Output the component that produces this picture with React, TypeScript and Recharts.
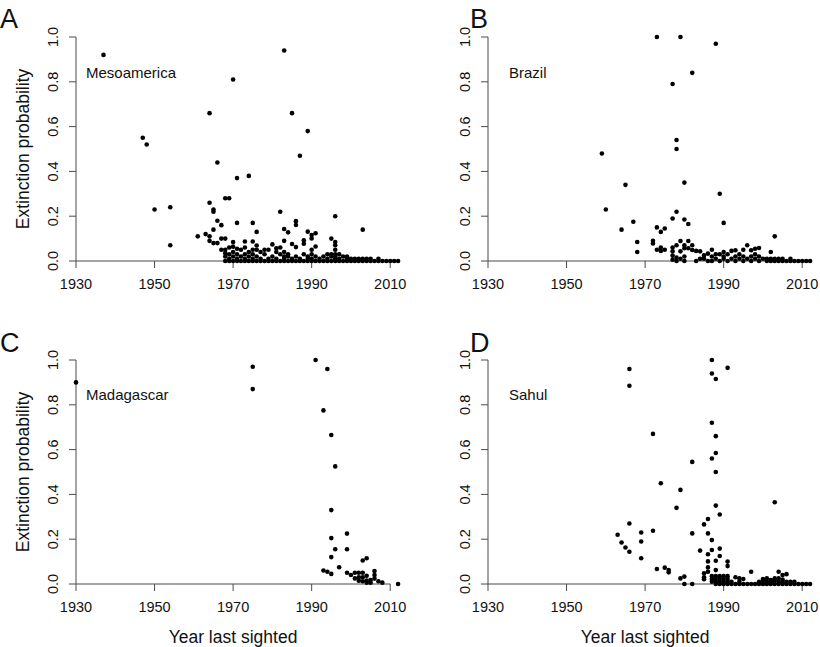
import { ScatterChart, Scatter, XAxis, YAxis, ReferenceLine } from "recharts";

const yearTicks = [1930, 1950, 1970, 1990, 2010];
const probTicks = [0, 0.2, 0.4, 0.6, 0.8, 1];

// [year last sighted, extinction probability]
const mesoamerica: [number, number][] = [
  [1937, 0.92], [1983, 0.94], [1970, 0.81], [1964, 0.66], [1985, 0.66], [1989, 0.58],
  [1947, 0.55], [1948, 0.52], [1987, 0.47], [1966, 0.44], [1971, 0.37], [1974, 0.38],
  [1950, 0.23], [1954, 0.24], [1954, 0.07], [1968, 0.28], [1969, 0.28], [1964, 0.26],
  [1965, 0.23], [1965, 0.22], [1966, 0.18], [1967, 0.16], [1971, 0.17], [1975, 0.17],
  [1982, 0.22], [1996, 0.2], [2003, 0.14], [1976, 0.13], [1965, 0.14], [1961, 0.11],
  [1963, 0.12], [1964, 0.11], [1964, 0.09], [1965, 0.08], [1966, 0.08], [1967, 0.1],
  [1968, 0.1], [1967, 0.05], [1968, 0.05], [1969, 0.06], [1970, 0.085], [1970, 0.064],
  [1970, 0.04], [1971, 0.055], [1972, 0.05], [1973, 0.087], [1973, 0.06], [1975, 0.087],
  [1975, 0.05], [1976, 0.069], [1976, 0.05], [1978, 0.05], [1979, 0.05], [1980, 0.074],
  [1981, 0.057], [1982, 0.06], [1983, 0.143], [1984, 0.128], [1983, 0.09], [1985, 0.076],
  [1986, 0.178], [1986, 0.161], [1986, 0.062], [1988, 0.092], [1988, 0.077], [1989, 0.131],
  [1990, 0.116], [1991, 0.124], [1990, 0.101], [1990, 0.05], [1991, 0.065], [1995, 0.1],
  [1996, 0.085], [1996, 0.07], [1996, 0.05],
  [1968, 0.0], [1968, 0.02], [1968, 0.035], [1969, 0.0], [1969, 0.01], [1969, 0.03],
  [1970, 0.0], [1970, 0.02], [1971, 0.0], [1971, 0.01], [1971, 0.03], [1972, 0.0],
  [1972, 0.02], [1973, 0.0], [1973, 0.01], [1973, 0.03], [1974, 0.0], [1974, 0.02],
  [1974, 0.04], [1975, 0.0], [1975, 0.01], [1975, 0.03], [1976, 0.0], [1976, 0.02],
  [1977, 0.0], [1977, 0.01], [1977, 0.04], [1978, 0.0], [1978, 0.03], [1979, 0.0],
  [1979, 0.01], [1980, 0.0], [1980, 0.02], [1981, 0.0], [1981, 0.01], [1981, 0.04],
  [1982, 0.0], [1982, 0.03], [1983, 0.0], [1983, 0.01], [1983, 0.02], [1983, 0.04],
  [1984, 0.0], [1984, 0.02], [1984, 0.03], [1985, 0.0], [1985, 0.01], [1986, 0.0],
  [1986, 0.02], [1987, 0.0], [1987, 0.01], [1988, 0.0], [1988, 0.03], [1989, 0.0],
  [1989, 0.01], [1989, 0.02], [1990, 0.0], [1990, 0.01], [1990, 0.03], [1991, 0.0],
  [1991, 0.02], [1992, 0.0], [1992, 0.01], [1993, 0.0], [1993, 0.02], [1994, 0.0],
  [1994, 0.01], [1994, 0.03], [1995, 0.0], [1995, 0.02], [1995, 0.03], [1996, 0.0],
  [1996, 0.01], [1996, 0.02], [1996, 0.03], [1997, 0.0], [1997, 0.01], [1997, 0.03],
  [1998, 0.0], [1998, 0.02], [1999, 0.0], [1999, 0.01], [1999, 0.02], [2000, 0.0],
  [2000, 0.01], [2001, 0.0], [2001, 0.01], [2002, 0.0], [2002, 0.01], [2003, 0.0],
  [2003, 0.01], [2004, 0.0], [2004, 0.01], [2005, 0.0], [2005, 0.01], [2006, 0.0],
  [2007, 0.0], [2007, 0.01], [2008, 0.0], [2009, 0.0], [2010, 0.0], [2011, 0.0],
  [2012, 0.0],
];

const brazil: [number, number][] = [
  [1973, 1.0], [1979, 1.0], [1988, 0.97], [1982, 0.84], [1977, 0.79], [1978, 0.54],
  [1978, 0.5], [1959, 0.48], [1965, 0.34], [1980, 0.35], [1989, 0.3], [1960, 0.23],
  [1978, 0.22], [1977, 0.19], [1980, 0.185], [1981, 0.165], [1990, 0.17], [1967, 0.175],
  [1964, 0.14], [1973, 0.15], [1974, 0.13], [1975, 0.145], [2003, 0.11], [1968, 0.085],
  [1968, 0.04], [1972, 0.09], [1972, 0.078], [1973, 0.05], [1974, 0.06], [1974, 0.045],
  [1975, 0.05], [1977, 0.06], [1977, 0.043], [1977, 0.024], [1978, 0.07], [1978, 0.015],
  [1979, 0.089], [1979, 0.043], [1980, 0.07], [1980, 0.057], [1981, 0.089], [1981, 0.057],
  [1982, 0.07], [1982, 0.049], [1983, 0.045], [1984, 0.043], [1985, 0.025], [1986, 0.033],
  [1987, 0.05], [1988, 0.03], [1989, 0.03], [1990, 0.04], [1991, 0.03], [1992, 0.045],
  [1993, 0.048], [1995, 0.05], [1996, 0.07], [1997, 0.048], [1998, 0.055], [1999, 0.058],
  [2002, 0.04],
  [1977, 0.006], [1978, 0.0], [1979, 0.01], [1980, 0.0], [1980, 0.02], [1983, 0.0],
  [1984, 0.01], [1985, 0.01], [1986, 0.0], [1987, 0.02], [1987, 0.0], [1988, 0.01],
  [1989, 0.0], [1990, 0.01], [1990, 0.02], [1991, 0.0], [1992, 0.01], [1993, 0.0],
  [1993, 0.02], [1994, 0.01], [1994, 0.03], [1995, 0.0], [1995, 0.02], [1996, 0.01],
  [1997, 0.0], [1997, 0.02], [1998, 0.01], [1998, 0.03], [1999, 0.0], [1999, 0.02],
  [2000, 0.01], [2001, 0.0], [2001, 0.01], [2002, 0.0], [2002, 0.01], [2003, 0.0],
  [2003, 0.01], [2004, 0.0], [2004, 0.01], [2005, 0.0], [2005, 0.01], [2006, 0.0],
  [2007, 0.0], [2007, 0.01], [2008, 0.0], [2009, 0.0], [2010, 0.0], [2011, 0.0],
  [2012, 0.0],
];

const madagascar: [number, number][] = [
  [1930, 0.9], [1975, 0.97], [1975, 0.87], [1991, 1.0], [1994, 0.96], [1993, 0.775],
  [1995, 0.665], [1996, 0.525], [1995, 0.33], [1995, 0.205], [1999, 0.225], [1996, 0.155],
  [1999, 0.155], [1995, 0.12], [2003, 0.105], [2004, 0.115], [1993, 0.06], [1994, 0.055],
  [1995, 0.045], [1997, 0.075], [1999, 0.05], [2000, 0.04], [2001, 0.05], [2002, 0.05],
  [2003, 0.05], [2001, 0.025], [2002, 0.03], [2003, 0.03], [2004, 0.037], [2006, 0.058],
  [2006, 0.04], [2006, 0.024], [2002, 0.015], [2003, 0.012], [2004, 0.015], [2005, 0.018],
  [2004, 0.006], [2005, 0.006], [2007, 0.012], [2008, 0.006], [2012, 0.0],
];

const sahul: [number, number][] = [
  [1966, 0.96], [1966, 0.885], [1987, 1.0], [1991, 0.965], [1987, 0.94], [1988, 0.915],
  [1987, 0.72], [1988, 0.66], [1988, 0.585], [1987, 0.56], [1988, 0.5], [1972, 0.67],
  [1982, 0.545], [1974, 0.45], [1979, 0.42], [1978, 0.34], [1988, 0.35], [1989, 0.31],
  [2003, 0.365], [1966, 0.27], [1963, 0.22], [1964, 0.185], [1965, 0.163], [1966, 0.144],
  [1969, 0.23], [1969, 0.19], [1969, 0.115], [1972, 0.238], [1973, 0.067], [1975, 0.073],
  [1976, 0.062], [1976, 0.052], [1979, 0.025], [1980, 0.033], [1980, 0.0], [1982, 0.0],
  [1982, 0.226], [1984, 0.149], [1985, 0.266], [1986, 0.29], [1986, 0.226], [1987, 0.196],
  [1986, 0.133], [1986, 0.101], [1986, 0.074], [1986, 0.055], [1985, 0.048], [1985, 0.03],
  [1985, 0.021], [1987, 0.152], [1988, 0.104], [1989, 0.158], [1989, 0.125], [1988, 0.062],
  [1991, 0.1], [1991, 0.08],
  [1987, 0.035], [1987, 0.022], [1987, 0.01], [1988, 0.035], [1988, 0.022], [1988, 0.01],
  [1989, 0.035], [1989, 0.022], [1989, 0.01], [1990, 0.035], [1990, 0.022], [1990, 0.01],
  [1991, 0.035], [1991, 0.022], [1991, 0.01], [1988, 0.0], [1989, 0.0], [1990, 0.0],
  [1993, 0.03], [1994, 0.025], [1995, 0.022], [1997, 0.055], [2000, 0.022], [2001, 0.025],
  [2002, 0.018], [2004, 0.055], [2005, 0.04], [2006, 0.044],
  [1991, 0.0], [1992, 0.0], [1992, 0.01], [1993, 0.0], [1994, 0.0], [1994, 0.01],
  [1995, 0.0], [1996, 0.0], [1997, 0.0], [1998, 0.0], [1999, 0.0], [1999, 0.01],
  [2000, 0.0], [2000, 0.012], [2001, 0.0], [2001, 0.01], [2002, 0.0], [2002, 0.01],
  [2003, 0.0], [2003, 0.015], [2003, 0.025], [2004, 0.0], [2004, 0.01], [2004, 0.025],
  [2005, 0.0], [2005, 0.01], [2005, 0.02], [2006, 0.0], [2006, 0.01], [2007, 0.0],
  [2007, 0.01], [2008, 0.0], [2008, 0.01], [2009, 0.0], [2010, 0.0], [2011, 0.0],
  [2012, 0.0],
];

const FONT = "'Liberation Sans', Arial, Helvetica, sans-serif";
const AXIS = "#4a4a4a";
const INK = "#111";

const PLOT_W = 326;
const PLOT_H = 224;
const Y_AXIS_W = 76;
const TOP = 10;
const X_AXIS_H = 40;

const YTick = ({ x, y, payload }: any) => {
  // labels stand upright along the axis, like R's default
  const bx = x - 11;
  return (
    <text
      x={bx}
      y={y}
      transform={`rotate(-90, ${bx}, ${y})`}
      textAnchor="middle"
      fontSize={14.5}
      fontFamily={FONT}
      fill={INK}
    >
      {Number(payload.value).toFixed(1)}
    </text>
  );
};

const XTick = ({ x, y, payload }: any) => (
  <text x={x} y={y + 21} textAnchor="middle" fontSize={14.5} fontFamily={FONT} fill={INK}>
    {payload.value}
  </text>
);

const Dot = (props: any) => <circle cx={props.cx} cy={props.cy} r={2.3} fill="#000" />;

const Panel = ({ data, left, top }: { data: [number, number][]; left: number; top: number }) => {
  const points = data.map(([x, y]) => ({ x, y }));
  return (
    <div style={{ position: "absolute", left: left - Y_AXIS_W, top: top - TOP }}>
      <ScatterChart
        width={Y_AXIS_W + PLOT_W + 6}
        height={TOP + PLOT_H + X_AXIS_H}
        margin={{ top: TOP, right: 6, left: 0, bottom: 0 }}
      >
        <XAxis
          type="number"
          dataKey="x"
          domain={[1930, 2013]}
          ticks={yearTicks}
          interval={0}
          axisLine={false}
          tickLine={{ stroke: AXIS }}
          tickSize={7}
          tickMargin={0}
          height={X_AXIS_H}
          tick={<XTick />}
        />
        <YAxis
          type="number"
          dataKey="y"
          domain={[0, 1]}
          ticks={probTicks}
          interval={0}
          axisLine={{ stroke: AXIS }}
          tickLine={{ stroke: AXIS }}
          tickSize={7}
          tickMargin={0}
          width={Y_AXIS_W}
          tick={<YTick />}
        />
        <ReferenceLine
          segment={[
            { x: 1930, y: 0 },
            { x: 2010, y: 0 },
          ]}
          stroke={AXIS}
          ifOverflow="visible"
        />
        <Scatter data={points} shape={<Dot />} isAnimationActive={false} />
      </ScatterChart>
    </div>
  );
};

const textStyle = { fontFamily: FONT, fill: INK };

export default function App() {
  return (
    <div
      style={{
        position: "absolute",
        left: 0,
        top: 0,
        width: 820,
        height: 647,
        background: "#fff",
        overflow: "hidden",
      }}
    >
      <Panel data={mesoamerica} left={76} top={37} />
      <Panel data={brazil} left={488} top={37} />
      <Panel data={madagascar} left={76} top={360} />
      <Panel data={sahul} left={488} top={360} />
      <svg
        width={820}
        height={647}
        style={{ position: "absolute", left: 0, top: 0, pointerEvents: "none" }}
      >
        <g style={textStyle} fontSize={27}>
          <text x={0} y={28}>A</text>
          <text x={470} y={28}>B</text>
          <text x={0} y={352}>C</text>
          <text x={470} y={352}>D</text>
        </g>
        <g style={textStyle} fontSize={15}>
          <text x={86} y={78}>Mesoamerica</text>
          <text x={509} y={78}>Brazil</text>
          <text x={86} y={400}>Madagascar</text>
          <text x={509} y={400}>Sahul</text>
        </g>
        <g style={textStyle} fontSize={17.5} textAnchor="middle">
          <text x={29} y={149} transform="rotate(-90, 29, 149)">Extinction probability</text>
          <text x={29} y={472} transform="rotate(-90, 29, 472)">Extinction probability</text>
          <text x={233} y={643}>Year last sighted</text>
          <text x={645} y={643}>Year last sighted</text>
        </g>
      </svg>
    </div>
  );
}
